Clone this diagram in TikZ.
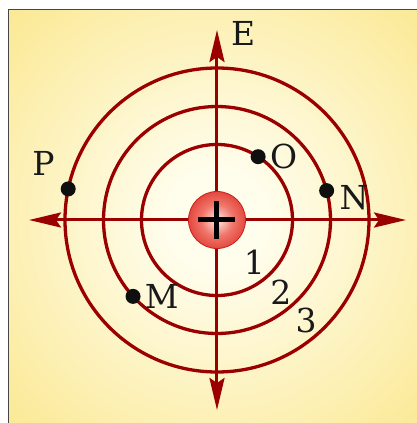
\documentclass[tikz,border=0pt]{standalone}
\usepackage{fontspec}
\setmainfont{DejaVu Serif}
\usepackage{tikz}
\usetikzlibrary{arrows.meta, positioning}
\definecolor{orbred}{RGB}{155,0,0}
\definecolor{bgin}{RGB}{255,253,236}
\definecolor{bgout}{RGB}{250,228,128}
\definecolor{nucin}{RGB}{255,236,232}
\definecolor{nucmid}{RGB}{240,118,106}
\definecolor{nucout}{RGB}{220,44,36}
\definecolor{nucrim}{RGB}{200,30,28}
\definecolor{dotblack}{RGB}{15,15,15}
\definecolor{framegray}{RGB}{70,70,70}
\definecolor{inkblack}{RGB}{25,25,25}
\pgfdeclareradialshading{bgglow}{\pgfpoint{0bp}{0bp}}{color(0bp)=(bgin); color(6bp)=(bgin); color(42bp)=(bgout); color(75bp)=(bgout)}
\pgfdeclareradialshading{nucglow}{\pgfpoint{0bp}{0bp}}{color(0bp)=(nucin); color(14bp)=(nucmid); color(32bp)=(nucout); color(50bp)=(nucrim)}
\tikzset{
  orbit/.style={draw=orbred, line width=3.3pt},
  axis/.style={<->, >={Stealth[length=32pt, width=15pt, inset=5pt]}, draw=orbred, fill=orbred, line width=3pt},
  dot/.style={circle, fill=dotblack, minimum size=15pt, inner sep=0pt},
  lbl/.style={font=\fontsize{33}{38}\selectfont, text=inkblack, inner sep=0pt},
  nucleus/.style={circle, minimum size=57pt, inner sep=0pt, shading=nucglow, draw=nucrim, line width=0.8pt},
  plusbar/.style={line width=5pt, draw=black}
}

\begin{document}
\begin{tikzpicture}[x=1pt, y=1pt]

  % Frame and glow
  \useasboundingbox (-217,-203) rectangle (200,220);
  \fill[white] (-217,-203) rectangle (200,220);
  \shade[shading=bgglow, draw=framegray, line width=1pt] (-208.5,-209) rectangle (209,210);

  % Axes
  \coordinate (core) at (0,0);
  \coordinate (west) at (-188,0);
  \coordinate (east) at (189,0);
  \coordinate (north) at (0,190);
  \coordinate (south) at (0,-190);
  \draw[axis] (west) -- (east);
  \draw[axis] (north) -- (south);

  % Orbits
  \foreach \r in {75.5, 113.5, 152}
    \draw[orbit] (core) circle (\r);

  % Nucleus
  \node[nucleus] (nuc) at (core) {};
  \draw[plusbar] ([xshift=-18.5pt]nuc.center) -- ([xshift=18.5pt]nuc.center);
  \draw[plusbar] ([yshift=-19pt]nuc.center) -- ([yshift=19pt]nuc.center);

  % Electrons
  \node[dot] (dO) at (57:75.5) {};
  \node[dot] (dN) at (15:113.5) {};
  \node[dot] (dM) at (222.3:113.5) {};
  \node[dot] (dP) at (168.2:152) {};

  % Labels
  \node[lbl, right=14pt of north, yshift=-3pt] (lE) {E};
  \node[lbl, right=4pt of dO] (lO) {O};
  \node[lbl, right=5pt of dN, yshift=-7pt] (lN) {N};
  \node[lbl, right=4pt of dM] (lM) {M};
  \node[lbl, above left=8pt and 8pt of dP] (lP) {P};
  \foreach \n/\r in {1/56.5, 2/96.5, 3/134.5}
    \node[lbl] (n\n) at (-48.5:\r) {\n};

\end{tikzpicture}
\end{document}
